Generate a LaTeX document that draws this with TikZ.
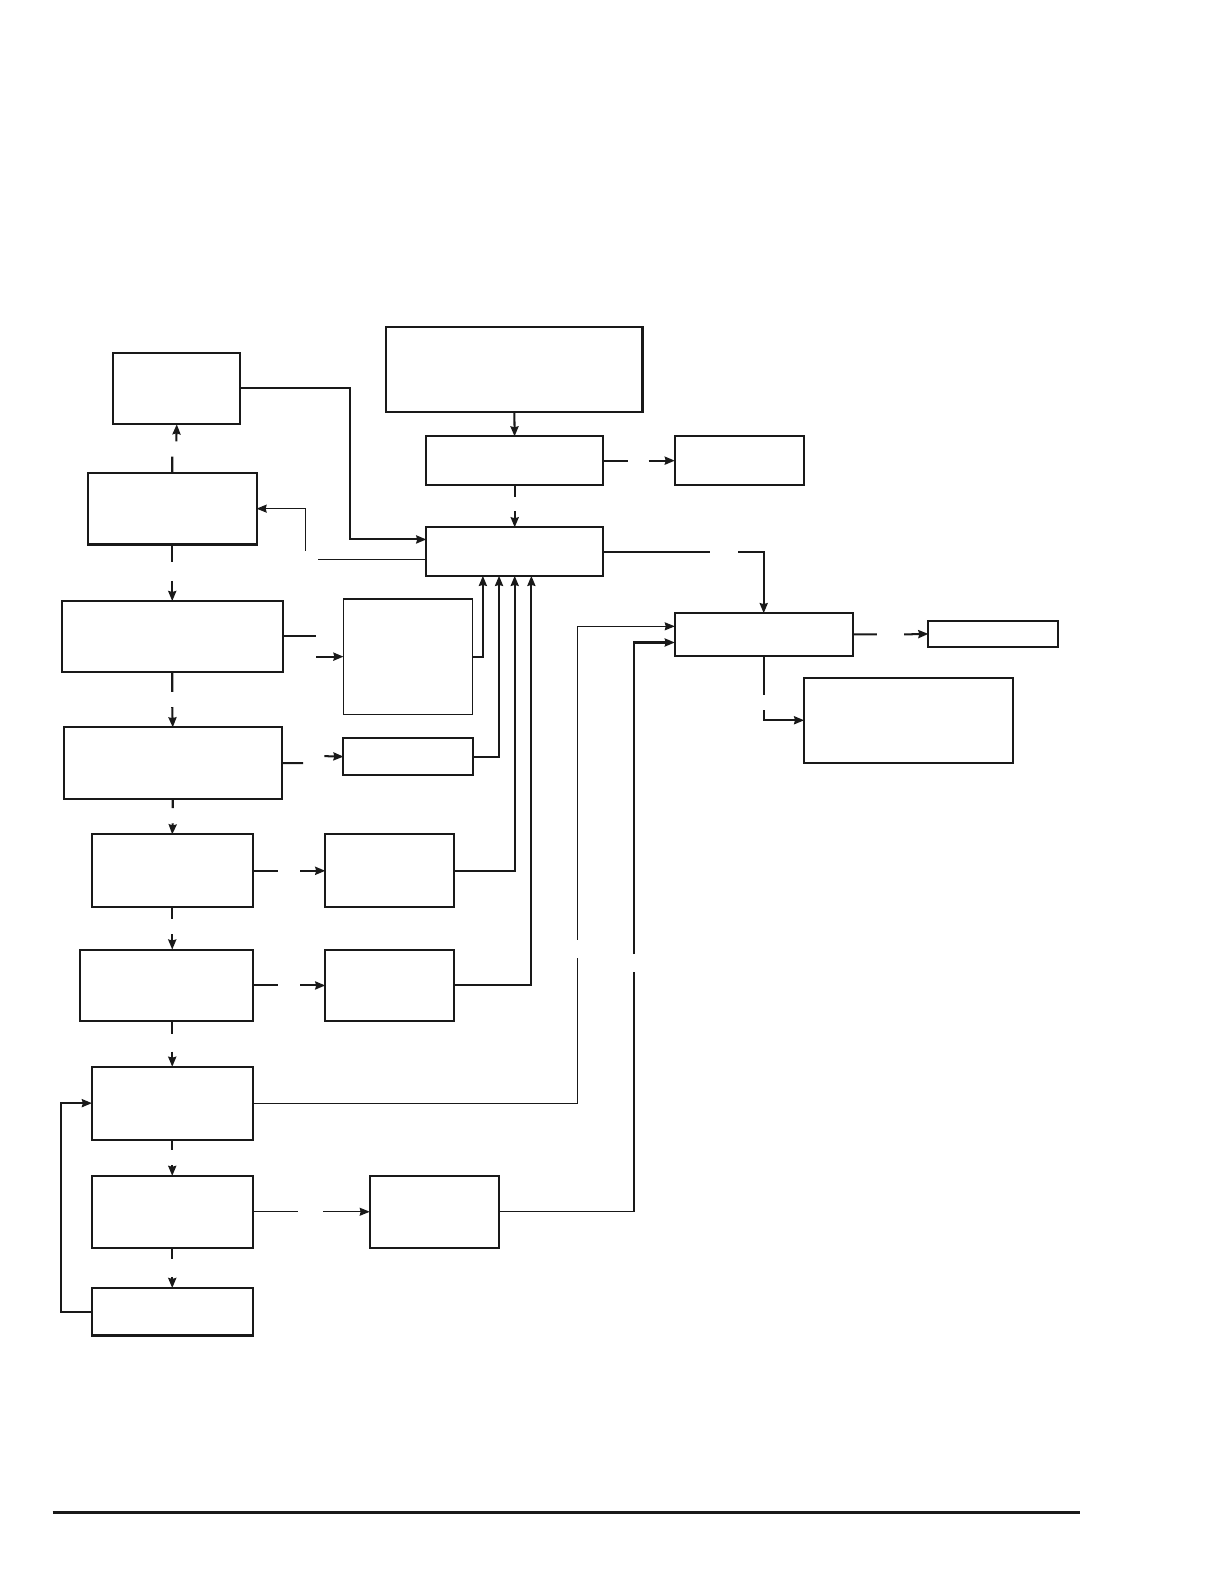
\documentclass[tikz,border=0pt]{standalone}
\usepackage{tikz}
\usetikzlibrary{positioning,arrows.meta,calc}

\begin{document}
\begin{tikzpicture}[
  x=1pt, y=-1pt,
  blk/.style={draw=black!90, line width=2pt, rectangle, inner sep=0pt, outer sep=0pt},
  blkthin/.style={blk, line width=1.3pt},
  arr/.style={-{Stealth[length=10pt, width=8pt, inset=1pt]}, line width=2pt, color=black!90},
  thinarr/.style={arr, line width=1.1pt},
  thinln/.style={line width=1.1pt, color=black!90},
]
  \useasboundingbox (0,0) rectangle (1212,1568);
  % top part
  \node[blk, minimum width=254pt, minimum height=84pt] (top) at (509,366) {};
  \node[blk, minimum width=175pt, minimum height=48pt] (recv) at (509.5,456) {};
  \node[blk, minimum width=128pt, minimum height=48pt] (side) at (732,456) {};
  \node[blk, minimum width=175pt, minimum height=48pt] (core) at (509.5,546) {};
  % left column
  \node[blk, minimum width=126pt, minimum height=71pt] (store) at (175,384.5) {};
  \node[blk, minimum width=167pt, minimum height=71pt] (l1) at (170.5,503.5) {};
  \node[blk, minimum width=219pt, minimum height=70pt] (l2) at (170.5,630) {};
  \node[blk, minimum width=216pt, minimum height=71pt] (l3) at (171,755.5) {};
  \node[blk, minimum width=159pt, minimum height=72pt] (l4) at (170.5,862) {};
  \node[blk, minimum width=171pt, minimum height=71pt] (l5) at (164.5,975.5) {};
  \node[blk, minimum width=159pt, minimum height=72pt] (l6) at (170.5,1092) {};
  \node[blk, minimum width=159pt, minimum height=71pt] (l7) at (170.5,1199.5) {};
  \node[blk, minimum width=159pt, minimum height=47pt] (l8) at (170.5,1298.5) {};
  % middle column
  \node[blkthin, minimum width=128pt, minimum height=114pt] (m1) at (404,650) {};
  \node[blk, minimum width=128pt, minimum height=36pt] (m2) at (404,749) {};
  \node[blk, minimum width=127pt, minimum height=72pt] (m3) at (385.5,862) {};
  \node[blk, minimum width=127pt, minimum height=71pt] (m4) at (385.5,975.5) {};
  \node[blk, minimum width=128pt, minimum height=71pt] (m5) at (430,1199.5) {};
  % right part
  \node[blk, minimum width=176pt, minimum height=42pt] (out) at (756,628) {};
  \node[blk, minimum width=128pt, minimum height=25pt] (outa) at (983,627.5) {};
  \node[blk, minimum width=207pt, minimum height=84pt] (outb) at (899.5,713) {};

  % connectors
  \draw[arr] (top) -- (recv);
  \draw[arr] (recv.south) -- ++(0,12) ++(0,14) -- (core.north);
  \draw[arr] (recv.east) -- ++(25,0) ++(20,0) -- (side.west);
  \draw[arr] (store.east) -- ++(108,0) |- ([yshift=12pt]core.west);
  \draw[thinarr] ([yshift=-8pt]core.west) -- ++(-107,0) ++(-13,-9) |- (l1.east);
  \draw[arr] (l1.north) -- ++(0,-16) ++(4,-15) -- (store.south);
  \draw[arr] (l1.south) -- ++(0,17) ++(0,19) -- (l2.north);
  \draw[arr] (l2.east) -- ++(33,0) ++(0,20) -- (m1.west);
  \draw[arr] (l2.south) -- ++(0,20) ++(0,15) -- (l3.north);
  \draw[arr] (l3.east) -- ++(21,0) ++(21,-7) -- (m2.west);
  \draw[arr] (l3.south) -- ++(0,9) ++(0,15) -- (l4.north);
  \draw[arr] (l4.east) -- ++(25,0) ++(22,0) -- (m3.west);
  \draw[arr] (l4.south) -- ++(0,12) ++(0,15) -- (l4.south |- l5.north);
  \draw[arr] (l5.east) -- ++(25,0) ++(22,0) -- (m4.west);
  \draw[arr] (l6.north |- l5.south) -- ++(0,13) ++(0,17) -- (l6.north);
  \draw[arr] (l6.south) -- ++(0,10) ++(0,15) -- (l7.north);
  \draw[arr] (l7.south) -- ++(0,11) ++(0,18) -- (l8.north);
  \draw[arr] (l8.west) -- ++(-31,0) |- (l6.west);
  \draw[thinarr] (l7.east) -- ++(45,0) ++(25,0) -- (m5.west);
  \draw[thinarr] (l6.east) -- ++(322,0) -- ++(0,-144) ++(0,-18) |- ([yshift=8pt]out.west);
  \draw[thinln] (m5.east) -- ++(134,0) coordinate (m5c);
  \draw[arr] (m5c) -- ++(0,-237) ++(0,-18) |- ([yshift=-8pt]out.west);
  \draw[arr] (m1.east) -| ([xshift=-31.5pt]core.south);
  \draw[arr] (m2.east) -| ([xshift=-15.5pt]core.south);
  \draw[arr] (m3.east) -| (core.south);
  \draw[arr] (m4.east) -| ([xshift=16.5pt]core.south);
  \draw[arr] (core.east) -- ++(106,0) ++(28,0) -| (out.north);
  \draw[arr] (out.east) -- ++(24,0) ++(27,0) -- (outa.west);
  \draw[arr] (out.south) -- ++(0,39) ++(0,15) |- (outb.west);

  % bottom rule
  \draw[line width=2.8pt, color=black!90] (52,1497) -- (1069,1497);
\end{tikzpicture}
\end{document}
